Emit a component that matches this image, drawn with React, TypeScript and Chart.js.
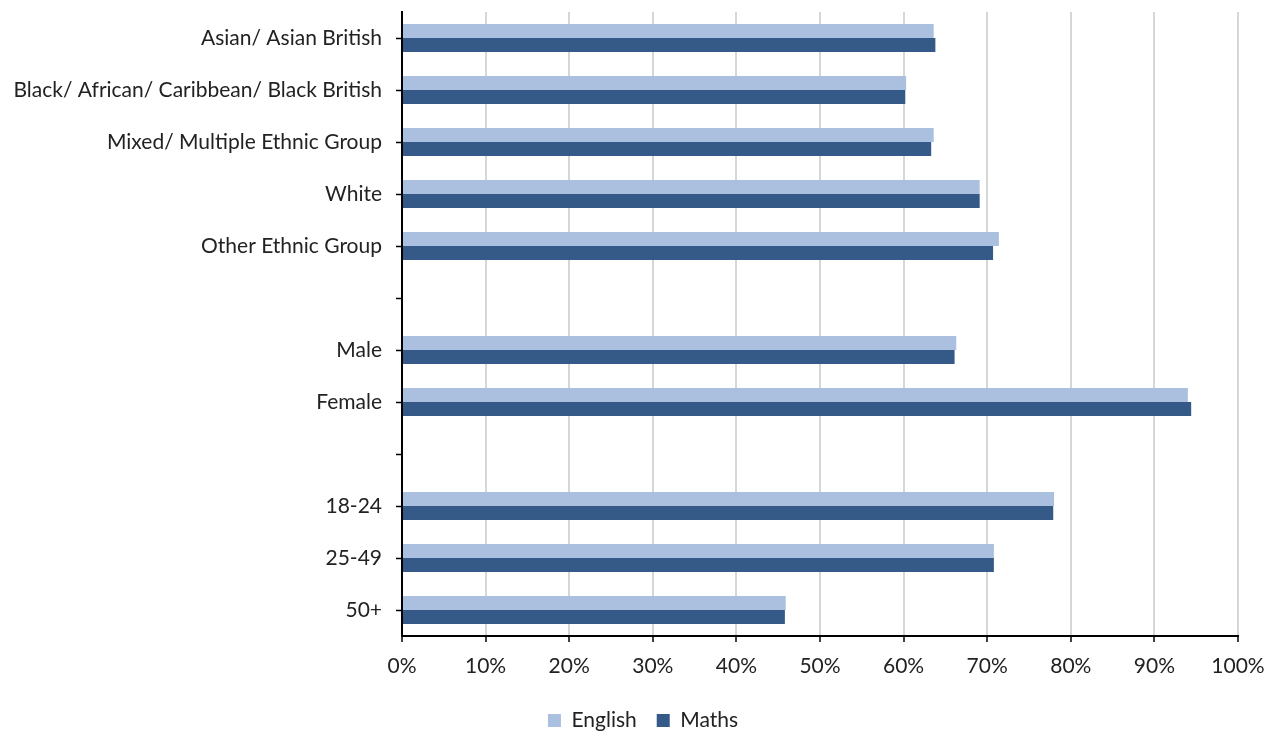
import React, { useEffect, useRef } from "react";
import { Chart, registerables } from "chart.js";

Chart.register(...registerables);

const categories = [
  "Asian/ Asian British",
  "Black/ African/ Caribbean/ Black British",
  "Mixed/ Multiple Ethnic Group",
  "White",
  "Other Ethnic Group",
  "",
  "Male",
  "Female",
  "",
  "18-24",
  "25-49",
  "50+",
];

const englishValues = [63.6, 60.3, 63.6, 69.1, 71.4, null, 66.3, 94.0, null, 78.0, 70.8, 45.9];
const mathsValues = [63.8, 60.2, 63.3, 69.1, 70.7, null, 66.1, 94.4, null, 77.9, 70.8, 45.8];

const xTicks = [0, 10, 20, 30, 40, 50, 60, 70, 80, 90, 100];

const FONT = "Lato, 'Open Sans', sans-serif";

const legendShift = {
  id: "legendShift",
  afterLayout(chart: any) {
    const lg = chart.legend;
    if (lg) {
      lg.left += 24;
      lg.right += 24;
    }
  },
};

export default function App() {
  const ref = useRef<HTMLCanvasElement | null>(null);

  useEffect(() => {
    if (!ref.current) return;
    const chart = new Chart(ref.current, {
      type: "bar",
      data: {
        labels: categories,
        datasets: [
          {
            label: "English",
            data: englishValues,
            backgroundColor: "#abc0de",
            borderWidth: 0,
            barPercentage: 1,
            categoryPercentage: 0.54,
          },
          {
            label: "Maths",
            data: mathsValues,
            backgroundColor: "#365a87",
            borderWidth: 0,
            barPercentage: 1,
            categoryPercentage: 0.54,
          },
        ],
      },
      options: {
        indexAxis: "y",
        animation: false,
        responsive: false,
        maintainAspectRatio: false,
        layout: { padding: { top: 12, right: 36, left: 0, bottom: -10 } },
        plugins: {
          legend: {
            position: "bottom",
            labels: {
              boxWidth: 13,
              boxHeight: 13,
              padding: 20,
              color: "#222",
              font: { family: FONT, size: 21 },
            },
          },
          tooltip: { enabled: false },
        },
        scales: {
          x: {
            min: 0,
            max: 100,
            afterBuildTicks: (scale: any) => {
              scale.ticks = xTicks.map((v) => ({ value: v }));
            },
            afterFit: (scale: any) => {
              scale.height = 54;
              scale.paddingLeft = 0;
              scale.paddingRight = 0;
            },
            ticks: {
              color: "#222",
              font: { family: FONT, size: 21 },
              padding: 12,
              callback: (v: any) => v + "%",
            },
            grid: {
              color: "#d6d6d6",
              lineWidth: 2,
              tickColor: "#000",
              tickLength: 6,
              tickWidth: 1.5,
            },
            border: { color: "#000", width: 2 },
          },
          y: {
            afterFit: (scale: any) => {
              scale.width = 402;
              scale.paddingTop = 0;
              scale.paddingBottom = 0;
            },
            ticks: {
              color: "#222",
              font: { family: FONT, size: 21 },
              padding: 14,
              autoSkip: false,
            },
            grid: {
              offset: false,
              drawOnChartArea: false,
              tickColor: "#000",
              tickLength: 6,
              tickWidth: 1.5,
            },
            border: { color: "#000", width: 2 },
          },
        },
      },
      plugins: [legendShift],
    });
    return () => chart.destroy();
  }, []);

  return (
    <div style={{ position: "fixed", left: 0, top: 0, width: 1274, height: 731, background: "#fff" }}>
      <canvas ref={ref} width={1274} height={731} style={{ width: 1274, height: 731 }} />
    </div>
  );
}
